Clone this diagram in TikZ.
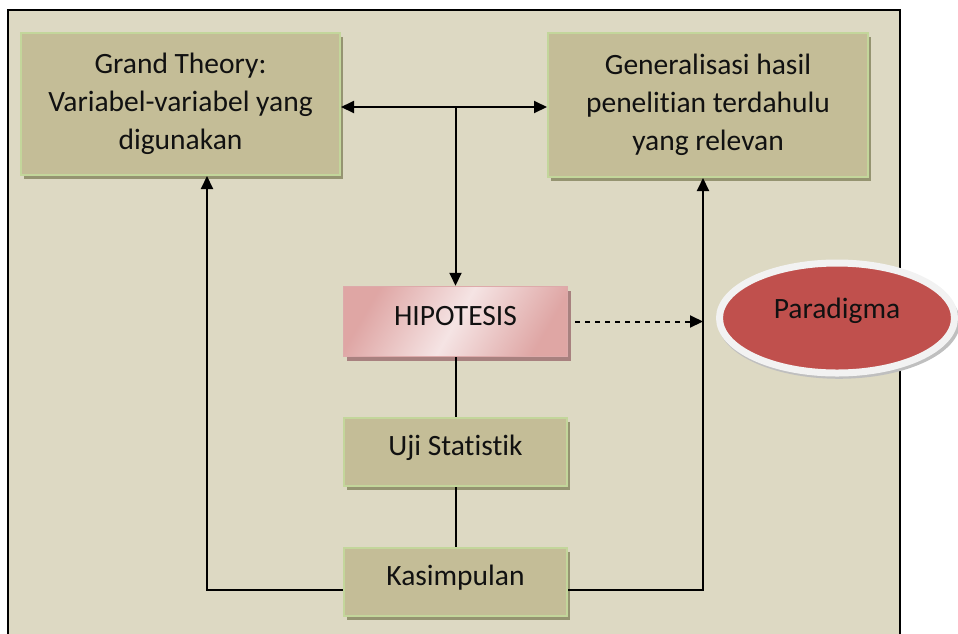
\documentclass[tikz,border=0pt]{standalone}
\usepackage{fontspec}
\setmainfont{Carlito}[Ligatures=NoCommon]
\usetikzlibrary{arrows.meta,shadows,shapes.geometric,calc}
\definecolor{bg}{HTML}{DDD9C3}
\definecolor{boxfill}{HTML}{C4BD97}
\definecolor{boxedge}{HTML}{C3D69B}
\definecolor{boxshadow}{HTML}{959471}
\definecolor{pinklight}{HTML}{F5E4E4}
\definecolor{pinkdark}{HTML}{D99694}
\definecolor{pinkedge}{HTML}{DDAAAA}
\definecolor{pinkshadow}{HTML}{A8817F}
\definecolor{parared}{HTML}{C0504D}
\definecolor{pararing}{HTML}{F2F2F2}
\definecolor{ink}{HTML}{111111}
\begin{document}
\begin{tikzpicture}[x=1pt,y=-1pt,
  txt/.style={font=\fontsize{29.5}{38}\selectfont, text=ink},
  olivebox/.style={txt, rectangle, fill=boxfill, draw=boxedge, line width=2pt,
    inner sep=0pt, align=center,
    general shadow={fill=boxshadow, shadow xshift=3pt, shadow yshift=-4pt}},
  oneline/.style={text height=20pt, text depth=13pt},
  pinkbox/.style={txt, rectangle, draw=pinkedge, line width=1.5pt, inner sep=0pt,
    left color=pinkdark!80!pinklight, right color=pinkdark!80!pinklight,
    middle color=pinklight, shading angle=60,
    general shadow={fill=pinkshadow, shadow xshift=3pt, shadow yshift=-4pt}},
  paraoval/.style={txt, ellipse, fill=parared, draw=pararing, line width=7pt,
    inner sep=0pt, text height=14pt, text depth=14pt,
    general shadow={fill=black!25, shadow xshift=2pt, shadow yshift=-4pt, shadow scale=1.03}},
  link/.style={line width=2pt, draw=black},
  arr/.style={link, -{Triangle[length=13pt,width=12pt]}},
  darr/.style={link, {Triangle[length=13pt,width=12pt]}-{Triangle[length=13pt,width=12pt]}},
]
\useasboundingbox (0,0) rectangle (958,633);

% panel
\fill[bg] (8,10) rectangle (900,645);
\draw[line width=2.5pt] (8,645) -- (8,10) -- (900,10) -- (900,645);

% boxes
\node[olivebox, minimum width=319pt, minimum height=142pt] (gt) at (180.5,104)
  {Grand Theory:\\Variabel-variabel yang\\digunakan};
\node[olivebox, minimum width=320pt, minimum height=144pt] (gen) at (708,105)
  {Generalisasi hasil\\penelitian terdahulu\\yang relevan};
\node[pinkbox, oneline, minimum width=224pt, minimum height=70pt] (hip) at (455.5,321.5) {HIPOTESIS};
\node[olivebox, oneline, minimum width=223pt, minimum height=68pt] (uji) at (455.5,452) {Uji Statistik};
\node[olivebox, oneline, minimum width=223pt, minimum height=68pt] (kas) at (455.5,582) {Kasimpulan};

% junction and corner points
\coordinate (j) at (455.5,107);
\coordinate (cl) at (207,590);
\coordinate (cr) at (703,590);

% connectors
\draw[darr] (gt.east |- j) -- (gen.west |- j);
\draw[arr] (j) -- (hip.north);
\draw[link] (hip.south) -- (uji.north);
\draw[link] (uji.south) -- (kas.north);
\draw[arr] (kas.west |- cl) -- (cl) -- (gt.south -| cl);
\draw[arr] (kas.east |- cr) -- (cr) -- (gen.south -| cr);
\draw[arr, dash pattern=on 5pt off 5pt, shorten <=7pt] (hip.east) -- (hip.east -| cr);

% paradigm oval
\node[paraoval, minimum width=235pt, minimum height=110pt] (para) at (837,318) {Paradigma};
\end{tikzpicture}
\end{document}
